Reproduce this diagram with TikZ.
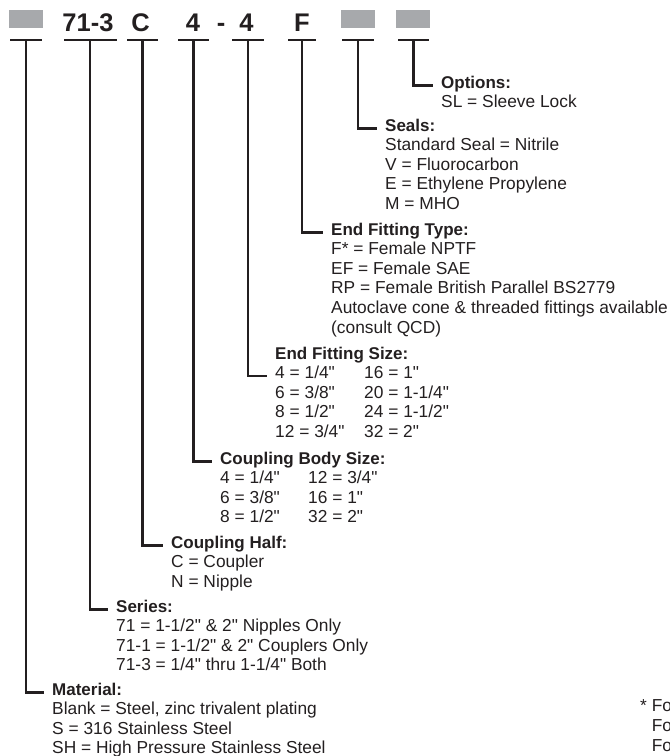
\documentclass[tikz,border=0pt]{standalone}
\usepackage{fontspec}
\newfontfamily\dinfont{Liberation Sans}
\usetikzlibrary{positioning,calc}

\definecolor{ink}{HTML}{231F20}
\definecolor{blankgray}{HTML}{A7A9AC}

\begin{document}
\begin{tikzpicture}[
  x=1pt, y=-1pt,
  code/.style={font=\dinfont\fontsize{25.5}{26}\selectfont\bfseries, text=ink, inner sep=0pt, anchor=base},
  slot/.style={fill=blankgray, inner sep=0pt, minimum width=34pt, minimum height=18pt},
  bar/.style={fill=ink, inner sep=0pt, minimum height=2.2pt},
  hdr/.style={font=\dinfont\fontsize{17}{19.6}\selectfont\bfseries, text=ink, inner sep=0pt, anchor=base west},
  desc/.style={font=\dinfont\fontsize{17.35}{19.6}\selectfont, text=ink, inner sep=0pt, align=left, anchor=base west},
  lead/.style={draw=ink, line width=2.2pt}
]
\useasboundingbox (0,0) rectangle (670,756);

% part number
\node[slot] (mat) at (26,19) {};
\node[code] (ser) at (88,31) {71-3};
\node[code] (half) at (140.5,31) {C};
\node[code] (body) at (193,31) {4};
\node[code] (dash) at (221,31) {-};
\node[code] (fsize) at (246.5,31) {4};
\node[code] (ftype) at (302,31) {F};
\node[slot] (seal) at (358,19) {};
\node[slot] (opt) at (413,19) {};

% bars under each field
\node[bar, minimum width=32pt] (b1) at (26,40) {};
\node[bar, minimum width=53pt] (b2) at (90,40) {};
\node[bar, minimum width=31pt] (b3) at (142.5,40) {};
\node[bar, minimum width=31pt] (b4) at (193.5,40) {};
\node[bar, minimum width=32pt] (b5) at (248,40) {};
\node[bar, minimum width=28pt] (b6) at (302,40) {};
\node[bar, minimum width=32pt] (b7) at (358,40) {};
\node[bar, minimum width=31pt] (b8) at (413.5,40) {};

% descriptions (base of a body = its last line)
\node[hdr] (optH) at (441,88) {Options:};
\node[desc] (optD) at ([yshift=-19.6pt]optH.base west) {SL = Sleeve Lock};

\node[hdr] (sealH) at (385,131) {Seals:};
\node[desc] (sealD) at ([yshift=-78.4pt]sealH.base west) {Standard Seal = Nitrile\\V = Fluorocarbon\\E = Ethylene Propylene\\M = MHO};

\node[hdr] (ftypeH) at (331,235) {End Fitting Type:};
\node[desc] (ftypeD) at ([yshift=-98pt]ftypeH.base west) {F* = Female NPTF\\EF = Female SAE\\RP = Female British Parallel BS2779\\Autoclave cone \& threaded fittings available\\(consult QCD)};

\node[hdr] (fsizeH) at (275,359) {End Fitting Size:};
\node[desc] (fsizeD) at ([yshift=-78.4pt]fsizeH.base west) {\makebox[89pt][l]{4 = 1/4"}16 = 1"\\\makebox[89pt][l]{6 = 3/8"}20 = 1-1/4"\\\makebox[89pt][l]{8 = 1/2"}24 = 1-1/2"\\\makebox[89pt][l]{12 = 3/4"}32 = 2"};

\node[hdr] (bodyH) at (220,464) {Coupling Body Size:};
\node[desc] (bodyD) at ([yshift=-58.8pt]bodyH.base west) {\makebox[88pt][l]{4 = 1/4"}12 = 3/4"\\\makebox[88pt][l]{6 = 3/8"}16 = 1"\\\makebox[88pt][l]{8 = 1/2"}32 = 2"};

\node[hdr] (halfH) at (171,548) {Coupling Half:};
\node[desc] (halfD) at ([yshift=-39.2pt]halfH.base west) {C = Coupler\\N = Nipple};

\node[hdr] (serH) at (116,612) {Series:};
\node[desc] (serD) at ([yshift=-58.8pt]serH.base west) {71 = 1-1/2" \& 2" Nipples Only\\71-1 = 1-1/2" \& 2" Couplers Only\\71-3 = 1/4" thru 1-1/4" Both};

\node[hdr] (matH) at (52,695) {Material:};
\node[desc] (matD) at ([yshift=-58.8pt]matH.base west) {Blank = Steel, zinc trivalent plating\\S = 316 Stainless Steel\\SH = High Pressure Stainless Steel};

\node[desc] (note) at (640,751) {* Fo\\\phantom{* }Fo\\\phantom{* }Fo};

% leaders
\draw[lead] (b8.center) |- ([shift={(-8pt,2.5pt)}]optH.base west);
\draw[lead] (b7.center) |- ([shift={(-8pt,2.5pt)}]sealH.base west);
\draw[lead] (b6.center) |- ([shift={(-8pt,2.5pt)}]ftypeH.base west);
\draw[lead] (b5.center) |- ([shift={(-8pt,-17.1pt)}]fsizeH.base west);
\draw[lead] (b4.center) |- ([shift={(-8pt,2.5pt)}]bodyH.base west);
\draw[lead] (b3.center) |- ([shift={(-8pt,2.5pt)}]halfH.base west);
\draw[lead] (b2.center) |- ([shift={(-8pt,2.5pt)}]serH.base west);
\draw[lead] (b1.center) |- ([shift={(-8pt,2.5pt)}]matH.base west);

\end{tikzpicture}
\end{document}
